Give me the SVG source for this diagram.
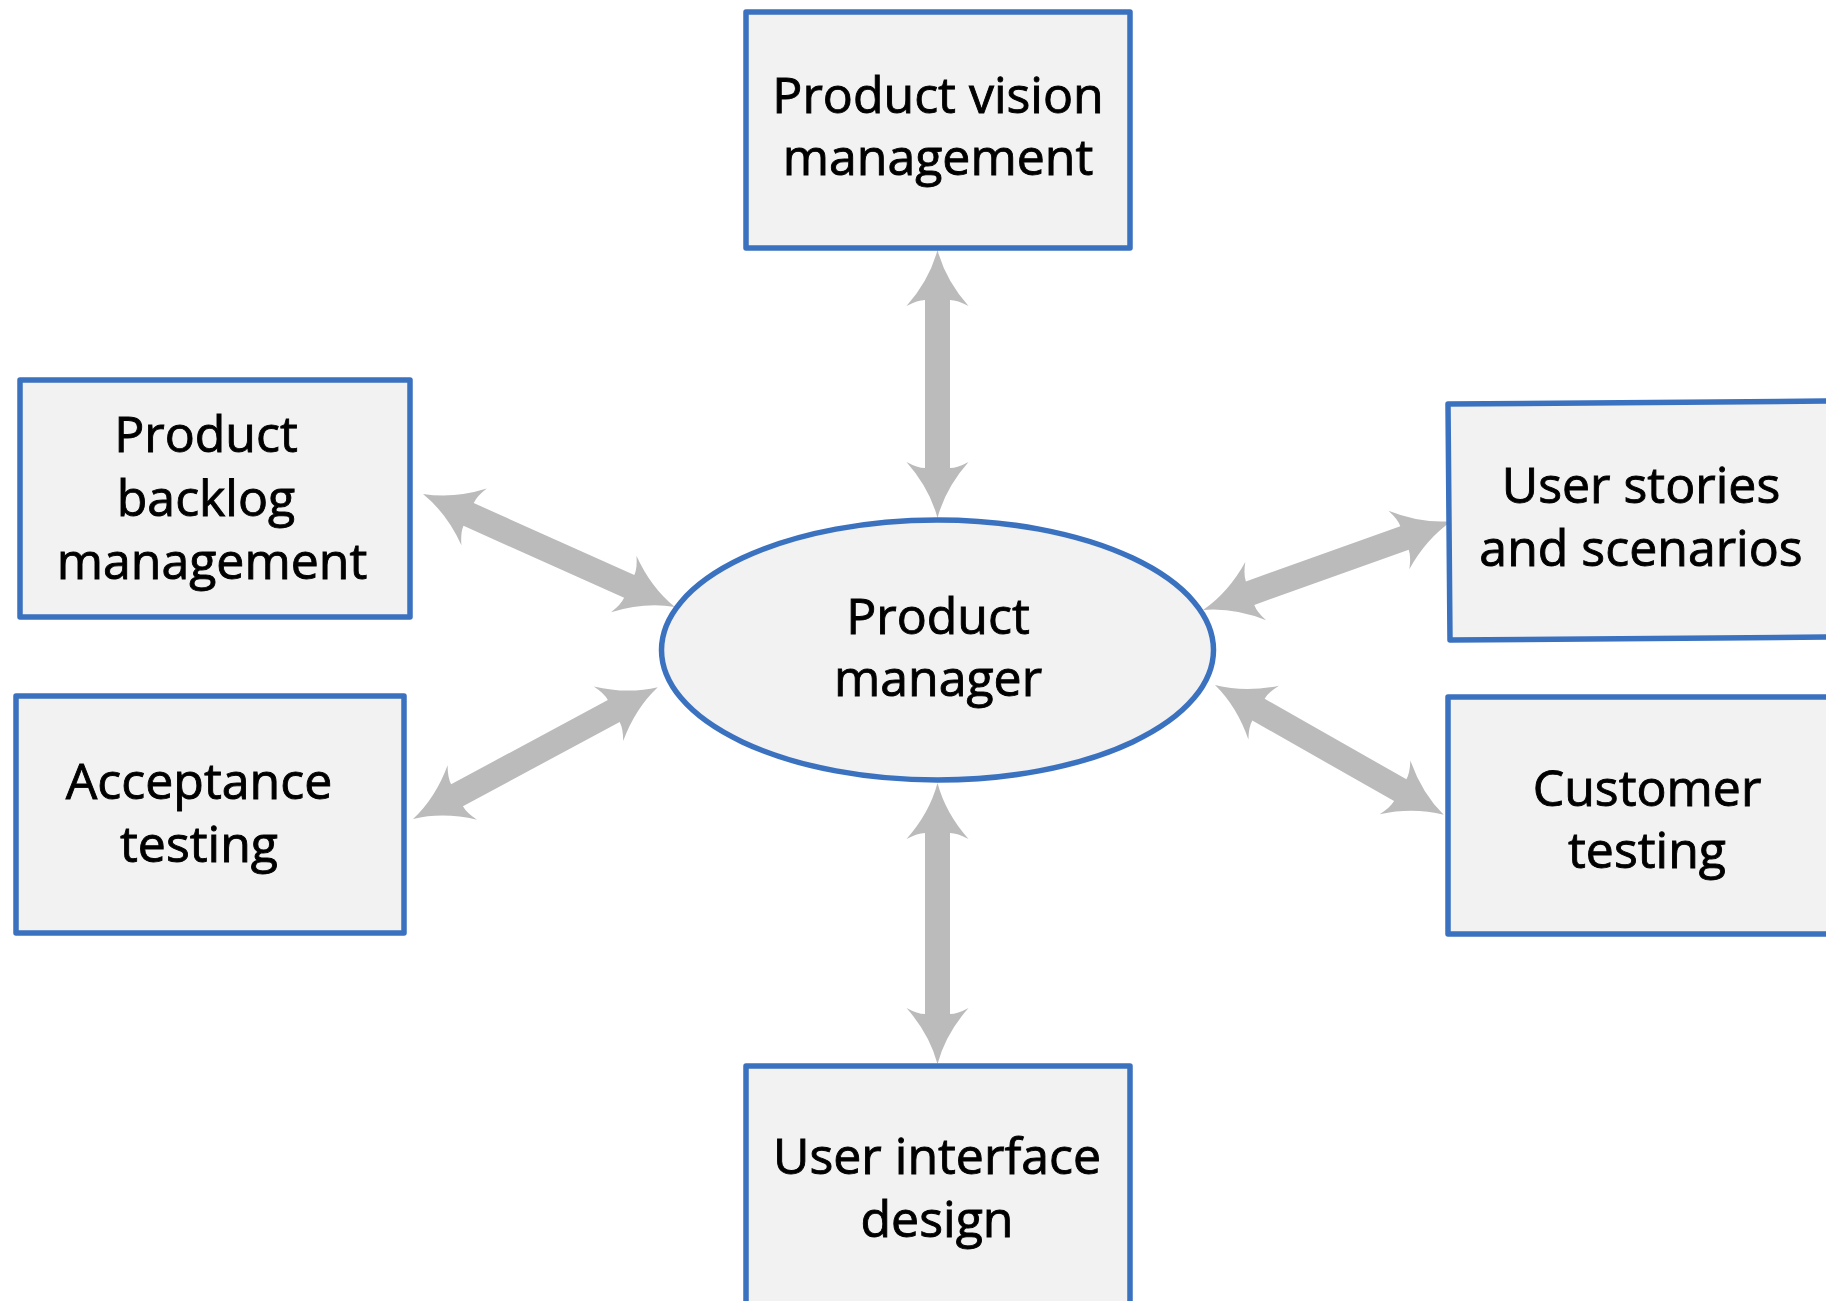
<svg xmlns="http://www.w3.org/2000/svg" width="1826" height="1301" viewBox="0 0 1826 1301">
<style>
.box{fill:#F2F2F2;stroke:#3B72C0;stroke-width:5.5;stroke-linejoin:round}
.lbl{font-family:"Open Sans","Noto Sans","Liberation Sans",sans-serif;font-size:50px;fill:#000;stroke:#000;stroke-width:0.9;text-anchor:middle}
.arr{fill:#BBBBBB}
</style>
<rect width="1826" height="1301" fill="#FFFFFF"/>
<g id="connectors">
<path class="arr" transform="translate(937.5,250) rotate(90)" d="M0 0 Q30 8 56 31 Q50 20 50 12.5 L218 12.5 Q218 20 212 31 Q238 8 268 0 Q238 -8 212 -31 Q218 -20 218 -12.5 L50 -12.5 Q50 -20 56 -31 Q30 -8 0 0 Z"/>
<path class="arr" transform="translate(937.5,783) rotate(90)" d="M0 0 Q30 8 56 31 Q50 20 50 12.5 L231 12.5 Q231 20 225 31 Q251 8 281 0 Q251 -8 225 -31 Q231 -20 231 -12.5 L50 -12.5 Q50 -20 56 -31 Q30 -8 0 0 Z"/>
<path class="arr" transform="translate(423,494) rotate(24.15)" d="M0 0 Q30 8 56 31 Q50 20 50 12.5 L226 12.5 Q226 20 220 31 Q246 8 276 0 Q246 -8 220 -31 Q226 -20 226 -12.5 L50 -12.5 Q50 -20 56 -31 Q30 -8 0 0 Z"/>
<path class="arr" transform="translate(413,819) rotate(-28.3)" d="M0 0 Q30 8 56 31 Q50 20 50 12.5 L228 12.5 Q228 20 222 31 Q248 8 278 0 Q248 -8 222 -31 Q228 -20 228 -12.5 L50 -12.5 Q50 -20 56 -31 Q30 -8 0 0 Z"/>
<path class="arr" transform="translate(1203,610) rotate(-19.67)" d="M0 0 Q30 8 56 31 Q50 20 50 12.5 L214 12.5 Q214 20 208 31 Q234 8 264 0 Q234 -8 208 -31 Q214 -20 214 -12.5 L50 -12.5 Q50 -20 56 -31 Q30 -8 0 0 Z"/>
<path class="arr" transform="translate(1215,685) rotate(29.58)" d="M0 0 Q30 8 56 31 Q50 20 50 12.5 L213 12.5 Q213 20 207 31 Q233 8 263 0 Q233 -8 207 -31 Q213 -20 213 -12.5 L50 -12.5 Q50 -20 56 -31 Q30 -8 0 0 Z"/>
</g>
<g id="product-vision">
<rect class="box" x="746" y="12" width="384" height="236"/>
<text class="lbl" x="938" y="113">Product vision</text>
<text class="lbl" x="938" y="175">management</text>
</g>
<g id="product-manager">
<ellipse class="box" cx="937.5" cy="650" rx="276" ry="130"/>
<text class="lbl" x="938" y="634">Product</text>
<text class="lbl" x="938" y="696">manager</text>
</g>
<g id="product-backlog">
<rect class="box" x="20" y="380" width="390" height="237"/>
<text class="lbl" x="206" y="452">Product</text>
<text class="lbl" x="206" y="516">backlog</text>
<text class="lbl" x="212" y="579">management</text>
</g>
<g id="acceptance-testing">
<rect class="box" x="16" y="696" width="388" height="237"/>
<text class="lbl" x="199" y="799">Acceptance</text>
<text class="lbl" x="199" y="862">testing</text>
</g>
<g id="user-stories">
<polygon class="box" points="1448,404 1832,401 1832,637 1450,640"/>
<text class="lbl" x="1641" y="503">User stories</text>
<text class="lbl" x="1641" y="566">and scenarios</text>
</g>
<g id="customer-testing">
<rect class="box" x="1448" y="697" width="384" height="237"/>
<text class="lbl" x="1647" y="806">Customer</text>
<text class="lbl" x="1647" y="868">testing</text>
</g>
<g id="user-interface">
<rect class="box" x="746" y="1066" width="384" height="250"/>
<text class="lbl" x="937" y="1174">User interface</text>
<text class="lbl" x="937" y="1237">design</text>
</g>
</svg>
